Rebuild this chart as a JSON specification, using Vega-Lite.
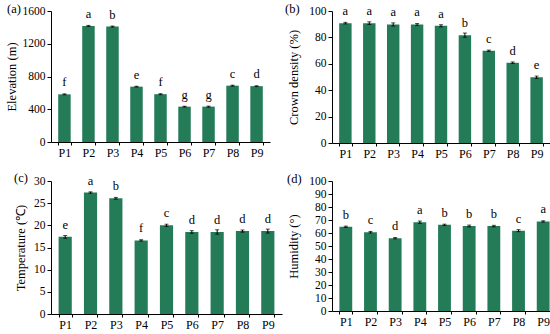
{
  "$schema": "https://vega.github.io/schema/vega-lite/v6.json",
  "background": "white",
  "padding": {"left": 5, "top": 2, "right": 2, "bottom": 1},
  "datasets": {
    "elev": [
      {"p": "P1", "v": 582, "e": 6, "g": "f"},
      {"p": "P2", "v": 1418, "e": 6, "g": "a"},
      {"p": "P3", "v": 1410, "e": 6, "g": "b"},
      {"p": "P4", "v": 676, "e": 5, "g": "e"},
      {"p": "P5", "v": 584, "e": 6, "g": "f"},
      {"p": "P6", "v": 432, "e": 5, "g": "g"},
      {"p": "P7", "v": 432, "e": 6, "g": "g"},
      {"p": "P8", "v": 688, "e": 6, "g": "c"},
      {"p": "P9", "v": 682, "e": 5, "g": "d"}
    ],
    "crown": [
      {"p": "P1", "v": 90.8, "e": 0.6, "g": "a"},
      {"p": "P2", "v": 90.8, "e": 1.0, "g": "a"},
      {"p": "P3", "v": 89.8, "e": 1.2, "g": "a"},
      {"p": "P4", "v": 89.8, "e": 0.7, "g": "a"},
      {"p": "P5", "v": 88.8, "e": 0.8, "g": "a"},
      {"p": "P6", "v": 81.7, "e": 1.6, "g": "b"},
      {"p": "P7", "v": 69.9, "e": 0.5, "g": "c"},
      {"p": "P8", "v": 60.8, "e": 0.6, "g": "d"},
      {"p": "P9", "v": 49.8, "e": 0.9, "g": "e"}
    ],
    "temp": [
      {"p": "P1", "v": 17.4, "e": 0.3, "g": "e"},
      {"p": "P2", "v": 27.4, "e": 0.15, "g": "a"},
      {"p": "P3", "v": 26.1, "e": 0.2, "g": "b"},
      {"p": "P4", "v": 16.6, "e": 0.15, "g": "f"},
      {"p": "P5", "v": 20.0, "e": 0.25, "g": "c"},
      {"p": "P6", "v": 18.5, "e": 0.3, "g": "d"},
      {"p": "P7", "v": 18.5, "e": 0.5, "g": "d"},
      {"p": "P8", "v": 18.7, "e": 0.25, "g": "d"},
      {"p": "P9", "v": 18.7, "e": 0.45, "g": "d"}
    ],
    "hum": [
      {"p": "P1", "v": 64.8, "e": 0.5, "g": "b"},
      {"p": "P2", "v": 60.6, "e": 0.6, "g": "c"},
      {"p": "P3", "v": 56.0, "e": 0.5, "g": "d"},
      {"p": "P4", "v": 68.3, "e": 0.9, "g": "a"},
      {"p": "P5", "v": 66.3, "e": 0.5, "g": "b"},
      {"p": "P6", "v": 65.4, "e": 0.7, "g": "b"},
      {"p": "P7", "v": 65.3, "e": 0.6, "g": "b"},
      {"p": "P8", "v": 61.8, "e": 0.8, "g": "c"},
      {"p": "P9", "v": 68.9, "e": 0.5, "g": "a"}
    ]
  },
  "config": {
    "font": "Liberation Serif",
    "view": {"stroke": null},
    "axis": {
      "domainColor": "black", "tickColor": "black", "labelColor": "black", "titleColor": "black",
      "grid": false, "labelFont": "Liberation Serif", "titleFont": "Liberation Serif",
      "labelFontSize": 11.5, "titleFontSize": 12.5, "titleFontWeight": "normal", "tickSize": 4
    },
    "axisX": {"labelAngle": 0, "labelFontSize": 12, "tickBand": "extent", "labelPadding": 2, "tickSize": 3},
    "axisY": {"labelPadding": 2, "format": "d"},
    "title": {"font": "Liberation Serif", "fontSize": 12.5, "fontWeight": "normal", "color": "black", "anchor": "start", "frame": "group"},
    "bar": {"color": "#237b58"},
    "text": {"font": "Liberation Serif", "fontSize": 12.5, "color": "black"}
  },
  "spacing": 13,
  "vconcat": [
    {
      "hconcat": [
        {
          "title": {"text": "(a)", "dx": -44, "dy": 14},
          "width": 219, "height": 131,
          "data": {"name": "elev"},
          "encoding": {
            "x": {"field": "p", "type": "nominal", "title": null, "scale": {"paddingInner": 0.48, "paddingOuter": 0.3}},
            "y": {"field": "v", "type": "quantitative", "title": "Elevation (m)", "scale": {"domain": [0, 1600]}, "axis": {"values": [0, 400, 800, 1200, 1600], "titlePadding": 4}}
          },
          "layer": [
            {"mark": "bar"},
            {"mark": {"type": "errorbar", "ticks": {"size": 4, "color": "black"}, "color": "black", "thickness": 1}, "encoding": {"yError": {"field": "e"}}},
            {"mark": {"type": "text", "dy": -12}, "encoding": {"text": {"field": "g"}}}
          ]
        },
        {
          "title": {"text": "(b)", "dx": -47, "dy": 14},
          "width": 218, "height": 132,
          "data": {"name": "crown"},
          "encoding": {
            "x": {"field": "p", "type": "nominal", "title": null, "scale": {"paddingInner": 0.48, "paddingOuter": 0.3}},
            "y": {"field": "v", "type": "quantitative", "title": "Crown density (%)", "scale": {"domain": [0, 100]}, "axis": {"values": [0, 20, 40, 60, 80, 100], "titlePadding": 8}}
          },
          "layer": [
            {"mark": "bar"},
            {"mark": {"type": "errorbar", "ticks": {"size": 4, "color": "black"}, "color": "black", "thickness": 1}, "encoding": {"yError": {"field": "e"}}},
            {"mark": {"type": "text", "dy": -12}, "encoding": {"text": {"field": "g"}}}
          ]
        }
      ],
      "bounds": "flush",
      "spacing": 62
    },
    {
      "hconcat": [
        {
          "title": {"text": "(c)", "dx": -37, "dy": 14},
          "width": 231, "height": 133,
          "data": {"name": "temp"},
          "encoding": {
            "x": {"field": "p", "type": "nominal", "title": null, "scale": {"paddingInner": 0.48, "paddingOuter": 0.3}},
            "y": {"field": "v", "type": "quantitative", "title": "Temperature (℃)", "scale": {"domain": [0, 30]}, "axis": {"values": [0, 5, 10, 15, 20, 25, 30], "titlePadding": 6}}
          },
          "layer": [
            {"mark": "bar"},
            {"mark": {"type": "errorbar", "ticks": {"size": 4, "color": "black"}, "color": "black", "thickness": 1}, "encoding": {"yError": {"field": "e"}}},
            {"mark": {"type": "text", "dy": -12}, "encoding": {"text": {"field": "g"}}}
          ]
        },
        {
          "title": {"text": "(d)", "dx": -45, "dy": 14},
          "width": 225, "height": 130,
          "data": {"name": "hum"},
          "encoding": {
            "x": {"field": "p", "type": "nominal", "title": null, "scale": {"paddingInner": 0.48, "paddingOuter": 0.3}},
            "y": {"field": "v", "type": "quantitative", "title": "Humidity (°)", "scale": {"domain": [0, 100]}, "axis": {"values": [0, 10, 20, 30, 40, 50, 60, 70, 80, 90, 100], "titlePadding": 8}}
          },
          "layer": [
            {"mark": "bar"},
            {"mark": {"type": "errorbar", "ticks": {"size": 4, "color": "black"}, "color": "black", "thickness": 1}, "encoding": {"yError": {"field": "e"}}},
            {"mark": {"type": "text", "dy": -12}, "encoding": {"text": {"field": "g"}}}
          ]
        }
      ],
      "bounds": "flush",
      "spacing": 50
    }
  ]
}
